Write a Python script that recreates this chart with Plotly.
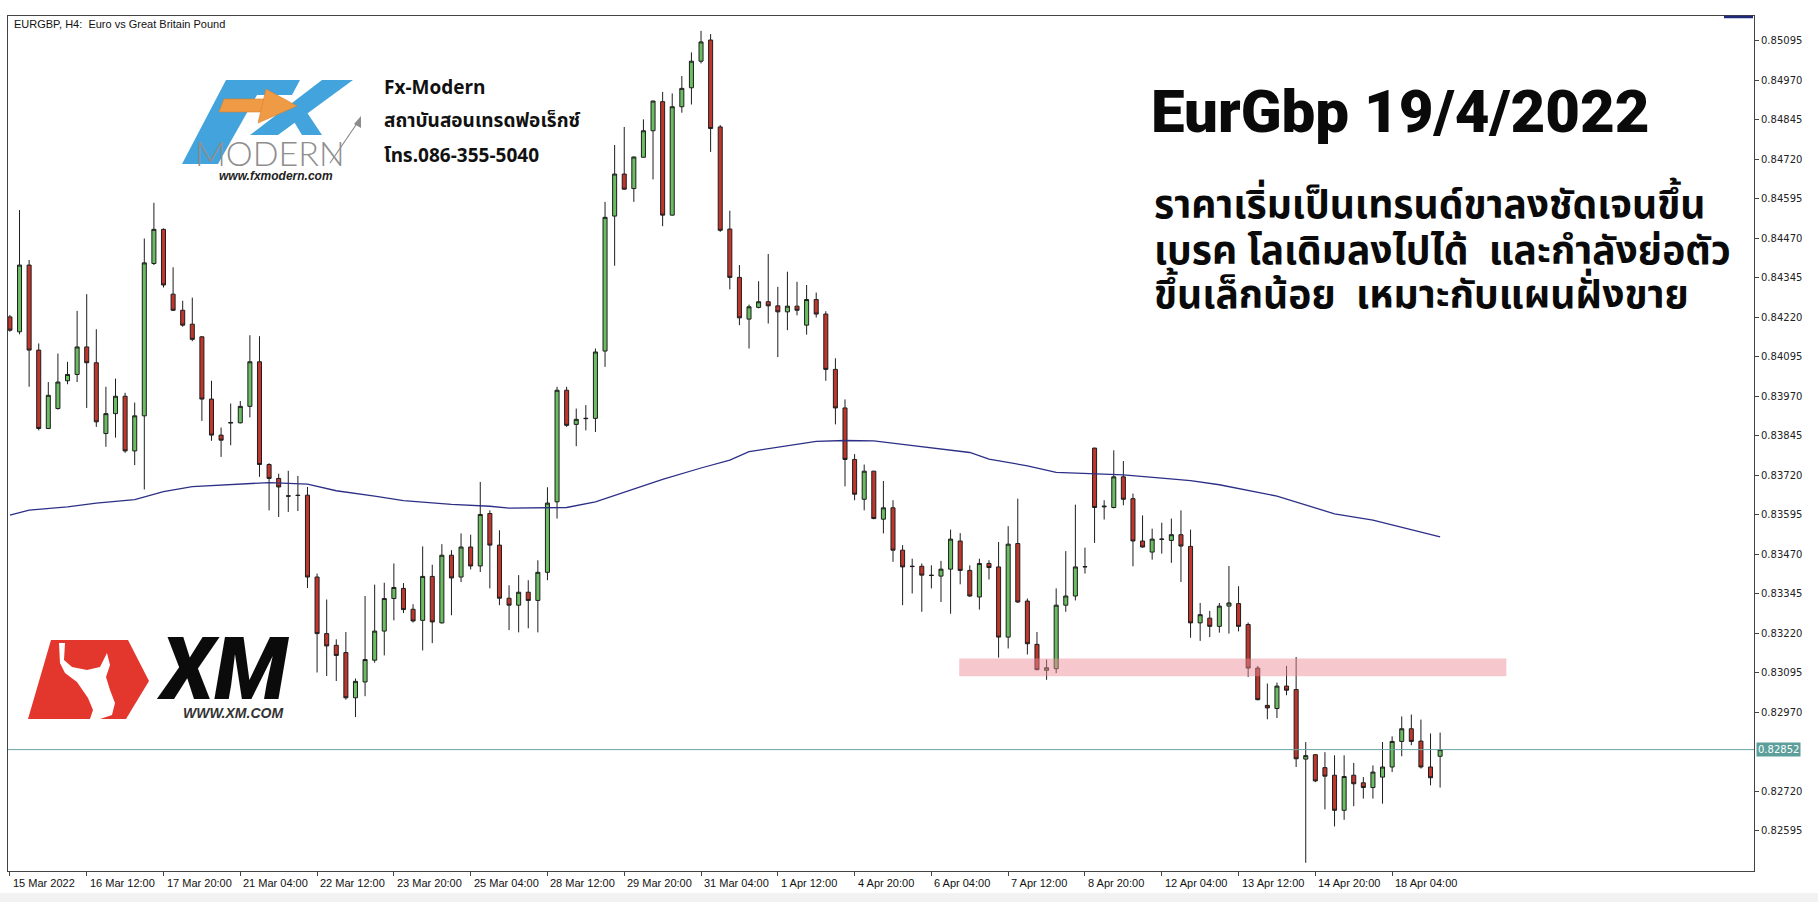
import plotly.graph_objects as go

# ---------------- data (EURGBP H4) ----------------
TICK_LABELS = ["15 Mar 2022", "16 Mar 12:00", "17 Mar 20:00", "21 Mar 04:00", "22 Mar 12:00",
               "23 Mar 20:00", "25 Mar 04:00", "28 Mar 12:00", "29 Mar 20:00", "31 Mar 04:00",
               "1 Apr 12:00", "4 Apr 20:00", "6 Apr 04:00", "7 Apr 12:00", "8 Apr 20:00",
               "12 Apr 04:00", "13 Apr 12:00", "14 Apr 20:00", "18 Apr 04:00"]
BARS_PER_LABEL = 8

OPEN = [0.84221, 0.84174, 0.84385, 0.84116, 0.83868, 0.83931, 0.84019, 0.84039, 0.84126, 0.84076,
        0.83852, 0.83915, 0.83970, 0.83797, 0.83908, 0.84390, 0.84498, 0.84293, 0.84242, 0.84198,
        0.84158, 0.83961, 0.83847, 0.83885, 0.83886, 0.83938, 0.84079, 0.83754, 0.83710, 0.83655,
        0.83657, 0.83657, 0.83398, 0.83219, 0.83182, 0.83159, 0.83016, 0.83066, 0.83135, 0.83227,
        0.83330, 0.83362, 0.83296, 0.83261, 0.83400, 0.83253, 0.83467, 0.83398, 0.83493, 0.83433,
        0.83599, 0.83499, 0.83331, 0.83309, 0.83350, 0.83324, 0.83413, 0.83636, 0.83989, 0.83881,
        0.83899, 0.83900, 0.84113, 0.84540, 0.84673, 0.84627, 0.84726, 0.84810, 0.84902, 0.84543,
        0.84886, 0.84946, 0.85030, 0.85097, 0.84822, 0.84499, 0.84346, 0.84214, 0.84251, 0.84269,
        0.84256, 0.84237, 0.84255, 0.84195, 0.84276, 0.84230, 0.84055, 0.83933, 0.83770, 0.83644,
        0.83733, 0.83581, 0.83617, 0.83483, 0.83431, 0.83432, 0.83404, 0.83401, 0.83423, 0.83512,
        0.83419, 0.83335, 0.83441, 0.83430, 0.83208, 0.83504, 0.83322, 0.83185, 0.83103, 0.83108,
        0.83309, 0.83338, 0.83430, 0.83806, 0.83620, 0.83618, 0.83715, 0.83646, 0.83512, 0.83477,
        0.83517, 0.83514, 0.83532, 0.83495, 0.83253, 0.83268, 0.83242, 0.83306, 0.83314, 0.83248,
        0.83110, 0.82992, 0.82982, 0.83053, 0.83042, 0.82822, 0.82836, 0.82795, 0.82771, 0.82660,
        0.82771, 0.82747, 0.82732, 0.82765, 0.82797, 0.82878, 0.82918, 0.82879, 0.82797, 0.82831]
HIGH = [0.84227, 0.84559, 0.84401, 0.84137, 0.84015, 0.84105, 0.84079, 0.84240, 0.84293, 0.84182,
        0.84000, 0.84026, 0.83981, 0.83950, 0.84469, 0.84582, 0.84501, 0.84378, 0.84272, 0.84282,
        0.84160, 0.84019, 0.83871, 0.83947, 0.83955, 0.84163, 0.84160, 0.83758, 0.83725, 0.83734,
        0.83718, 0.83683, 0.83409, 0.83327, 0.83201, 0.83224, 0.83077, 0.83338, 0.83374, 0.83380,
        0.83441, 0.83379, 0.83312, 0.83495, 0.83437, 0.83502, 0.83483, 0.83536, 0.83532, 0.83699,
        0.83609, 0.83546, 0.83372, 0.83404, 0.83388, 0.83451, 0.83682, 0.84000, 0.84000, 0.83931,
        0.83942, 0.84121, 0.84585, 0.84765, 0.84822, 0.84728, 0.84846, 0.84905, 0.84933, 0.84928,
        0.84983, 0.85058, 0.85126, 0.85116, 0.84828, 0.84557, 0.84385, 0.84260, 0.84334, 0.84420,
        0.84316, 0.84364, 0.84332, 0.84322, 0.84298, 0.84239, 0.84090, 0.83960, 0.83787, 0.83754,
        0.83734, 0.83702, 0.83641, 0.83499, 0.83456, 0.83441, 0.83435, 0.83449, 0.83548, 0.83537,
        0.83435, 0.83456, 0.83451, 0.83509, 0.83559, 0.83646, 0.83330, 0.83224, 0.83137, 0.83362,
        0.83480, 0.83627, 0.83491, 0.83807, 0.83641, 0.83799, 0.83765, 0.83662, 0.83593, 0.83551,
        0.83570, 0.83583, 0.83609, 0.83548, 0.83316, 0.83291, 0.83316, 0.83433, 0.83369, 0.83254,
        0.83117, 0.83061, 0.83064, 0.83117, 0.83145, 0.82876, 0.82837, 0.82844, 0.82834, 0.82834,
        0.82810, 0.82765, 0.82802, 0.82876, 0.82894, 0.82957, 0.82963, 0.82947, 0.82903, 0.82906]
LOW = [0.84174, 0.84166, 0.84000, 0.83862, 0.83866, 0.83928, 0.84008, 0.84015, 0.83933, 0.83873,
       0.83810, 0.83839, 0.83791, 0.83752, 0.83675, 0.84385, 0.84314, 0.84240, 0.84190, 0.84144,
       0.83892, 0.83829, 0.83778, 0.83815, 0.83884, 0.83903, 0.83715, 0.83609, 0.83588, 0.83604,
       0.83607, 0.83363, 0.83096, 0.83085, 0.83069, 0.83010, 0.82955, 0.83021, 0.83127, 0.83150,
       0.83261, 0.83284, 0.83254, 0.83166, 0.83189, 0.83251, 0.83277, 0.83382, 0.83422, 0.83414,
       0.83362, 0.83309, 0.83230, 0.83223, 0.83236, 0.83223, 0.83388, 0.83583, 0.83873, 0.83812,
       0.83862, 0.83857, 0.84063, 0.84383, 0.84624, 0.84585, 0.84725, 0.84656, 0.84508, 0.84542,
       0.84867, 0.84893, 0.85023, 0.84743, 0.84490, 0.84308, 0.84195, 0.84121, 0.84248, 0.84200,
       0.84094, 0.84179, 0.84226, 0.84165, 0.84219, 0.84019, 0.83881, 0.83685, 0.83641, 0.83609,
       0.83581, 0.83536, 0.83446, 0.83309, 0.83346, 0.83288, 0.83362, 0.83319, 0.83282, 0.83375,
       0.83335, 0.83295, 0.83390, 0.83143, 0.83172, 0.83316, 0.83153, 0.83103, 0.83073, 0.83094,
       0.83288, 0.83324, 0.83409, 0.83506, 0.83580, 0.83615, 0.83625, 0.83432, 0.83491, 0.83453,
       0.83472, 0.83443, 0.83382, 0.83206, 0.83196, 0.83208, 0.83222, 0.83219, 0.83226, 0.83082,
       0.83008, 0.82948, 0.82952, 0.83024, 0.82797, 0.82494, 0.82749, 0.82663, 0.82609, 0.82630,
       0.82673, 0.82697, 0.82697, 0.82681, 0.82781, 0.82831, 0.82866, 0.82792, 0.82739, 0.82732]
CLOSE = [0.84179, 0.84385, 0.84116, 0.83868, 0.83973, 0.84015, 0.84039, 0.84126, 0.84076, 0.83889,
         0.83915, 0.83970, 0.83797, 0.83908, 0.84392, 0.84498, 0.84322, 0.84242, 0.84195, 0.84150,
         0.83961, 0.83847, 0.83831, 0.83887, 0.83938, 0.84079, 0.83754, 0.83710, 0.83683, 0.83654,
         0.83656, 0.83398, 0.83219, 0.83180, 0.83150, 0.83016, 0.83068, 0.83137, 0.83227, 0.83330,
         0.83365, 0.83295, 0.83259, 0.83400, 0.83256, 0.83467, 0.83395, 0.83493, 0.83433, 0.83596,
         0.83499, 0.83331, 0.83309, 0.83350, 0.83324, 0.83413, 0.83632, 0.83989, 0.83878, 0.83897,
         0.83900, 0.84110, 0.84536, 0.84673, 0.84625, 0.84727, 0.84810, 0.84904, 0.84543, 0.84886,
         0.84944, 0.85030, 0.85091, 0.84817, 0.84495, 0.84346, 0.84218, 0.84253, 0.84269, 0.84256,
         0.84237, 0.84255, 0.84242, 0.84276, 0.84230, 0.84055, 0.83933, 0.83770, 0.83660, 0.83733,
         0.83583, 0.83617, 0.83483, 0.83430, 0.83432, 0.83404, 0.83403, 0.83423, 0.83518, 0.83419,
         0.83338, 0.83441, 0.83428, 0.83208, 0.83502, 0.83319, 0.83187, 0.83105, 0.83111, 0.83309,
         0.83338, 0.83430, 0.83431, 0.83618, 0.83622, 0.83715, 0.83644, 0.83512, 0.83493, 0.83518,
         0.83518, 0.83532, 0.83496, 0.83253, 0.83279, 0.83242, 0.83306, 0.83316, 0.83242, 0.83110,
         0.83010, 0.82984, 0.83053, 0.83040, 0.82823, 0.82833, 0.82753, 0.82768, 0.82660, 0.82767,
         0.82744, 0.82732, 0.82781, 0.82797, 0.82878, 0.82918, 0.82878, 0.82797, 0.82763, 0.82852]

# moving average, sampled along the bars
MA_BAR = [0, 2, 6, 9, 13, 16, 19, 22, 25, 27, 31, 34, 38, 41, 46, 50, 52, 58, 61, 65, 68, 72, 75,
          77, 81, 84, 87, 90, 93, 97, 100, 102, 106, 109, 113, 116, 120, 123, 126, 132, 138, 142, 149]
MA_VAL = [0.83594, 0.83610, 0.83620, 0.83632, 0.83643, 0.83668, 0.83684, 0.83689, 0.83696, 0.83697,
          0.83692, 0.83671, 0.83654, 0.83640, 0.83628, 0.83622, 0.83616, 0.83618, 0.83636, 0.83676,
          0.83707, 0.83743, 0.83768, 0.83795, 0.83812, 0.83827, 0.83830, 0.83829, 0.83818, 0.83803,
          0.83792, 0.83771, 0.83750, 0.83729, 0.83724, 0.83721, 0.83711, 0.83703, 0.83690, 0.83654,
          0.83598, 0.83578, 0.83525]

Y_TICKS = [0.85095, 0.84970, 0.84845, 0.84720, 0.84595, 0.84470, 0.84345, 0.84220, 0.84095,
           0.83970, 0.83845, 0.83720, 0.83595, 0.83470, 0.83345, 0.83220, 0.83095, 0.82970,
           0.82720, 0.82595]
Y_RANGE = [0.82468, 0.85173]
X_RANGE = [-0.2, 181.7]

# support zone (bars, price)
ZONE_X = [98.9, 155.9]
ZONE_Y = [0.83084, 0.83140]

# ---------------- layout geometry (pixels) ----------------
W, H = 1818, 902
PL, PR, PT, PB = 8, 1754, 16, 871


def px(x):
    return (x - PL) / (PR - PL)


def py(y):
    return (PB - y) / (PB - PT)


def path(points):
    return "M " + " L ".join(f"{px(x):.5f},{py(y):.5f}" for x, y in points) + " Z"


n = len(CLOSE)
bars = list(range(n))

fig = go.Figure()
fig.add_trace(go.Candlestick(
    x=bars, open=OPEN, high=HIGH, low=LOW, close=CLOSE,
    increasing=dict(line=dict(color="#1e1e1e", width=1), fillcolor="#6abd60"),
    decreasing=dict(line=dict(color="#1e1e1e", width=1), fillcolor="#c0362c"),
    whiskerwidth=0, hoverinfo="skip",
))
fig.add_trace(go.Scatter(x=MA_BAR, y=MA_VAL, mode="lines",
                         line=dict(color="#2d2f86", width=1.3), hoverinfo="skip"))

shapes = []
# support zone
shapes.append(dict(type="rect", xref="x", yref="y", x0=ZONE_X[0], x1=ZONE_X[1],
                   y0=ZONE_Y[0], y1=ZONE_Y[1], fillcolor="rgba(236,140,150,0.48)",
                   line=dict(width=0), layer="above"))
# current price line
shapes.append(dict(type="line", xref="paper", yref="y", x0=0, x1=1, y0=CLOSE[-1], y1=CLOSE[-1],
                   line=dict(color="#6aa6a6", width=1), layer="above"))
# chart-shift marker (top right)
shapes.append(dict(type="line", xref="paper", yref="paper", x0=px(1724), x1=px(1753),
                   y0=py(17), y1=py(17), line=dict(color="#1f2a7a", width=2.5)))
# bottom grey strip of the window
shapes.append(dict(type="rect", xref="paper", yref="paper", x0=px(0), x1=px(W),
                   y0=py(893), y1=py(H), fillcolor="#f2f2f2", line=dict(width=0), layer="below"))

# ---- FX Modern logo (decoration) ----
BLUE = "#43a3dc"
shapes.append(dict(type="path", xref="paper", yref="paper", fillcolor=BLUE, line=dict(width=0),
                   path=path([(226, 80), (300, 80), (292, 95), (257, 95), (218, 164), (182, 164)])))
shapes.append(dict(type="path", xref="paper", yref="paper", fillcolor=BLUE, line=dict(width=0),
                   path=path([(322, 80), (353, 80), (278, 135), (250, 135)])))
shapes.append(dict(type="path", xref="paper", yref="paper", fillcolor=BLUE, line=dict(width=0),
                   path=path([(287, 110), (300, 102), (322, 135), (302, 135)])))
shapes.append(dict(type="path", xref="paper", yref="paper", fillcolor="#ef9a45", line=dict(color="#d8822d", width=0.6),
                   path=path([(224, 99), (268, 99), (265, 112), (219, 112)])))
shapes.append(dict(type="path", xref="paper", yref="paper", fillcolor="#ef9a45", line=dict(color="#d8822d", width=0.6),
                   path=path([(266, 89), (297, 106), (258, 123)])))
shapes.append(dict(type="line", xref="paper", yref="paper", x0=px(330), y0=py(163), x1=px(358), y1=py(122),
                   line=dict(color="#8c8c8c", width=1.2)))
shapes.append(dict(type="path", xref="paper", yref="paper", fillcolor="#8c8c8c", line=dict(width=0),
                   path=path([(361, 116), (361, 128), (354, 124)])))

# ---- XM logo (decoration) ----
shapes.append(dict(type="path", xref="paper", yref="paper", fillcolor="#e3372d", line=dict(width=0),
                   path=path([(51, 640), (128, 640), (149, 681), (126, 719), (28, 719)])))
shapes.append(dict(type="path", xref="paper", yref="paper", fillcolor="white", line=dict(width=0),
                   path=path([(59, 643), (65, 643), (64, 660), (72, 667), (87, 670), (100, 667),
                              (107, 653), (110, 665), (106, 677), (110, 690), (115, 703),
                              (112, 715), (100, 719), (90, 719), (93, 710), (88, 698),
                              (77, 682), (65, 673), (60, 663)])))

ann = []
# x labels (left aligned on their tick, like the terminal)
tick_bars = [i * BARS_PER_LABEL for i in range(len(TICK_LABELS))]
for b, lab in zip(tick_bars, TICK_LABELS):
    ann.append(dict(x=b, y=0, xref="x", yref="paper", text=lab, showarrow=False,
                    xanchor="left", yanchor="top", yshift=-4, xshift=1,
                    font=dict(family="Liberation Sans, Arial", size=11, color="#111")))
# current price label
ann.append(dict(x=1, y=CLOSE[-1], xref="paper", yref="y", text=f"{CLOSE[-1]:.5f}", showarrow=False,
                xanchor="left", yanchor="middle", xshift=2, bgcolor="#5b9e9a", borderpad=1,
                font=dict(family="DejaVu Sans", size=10, color="white")))
# header
ann.append(dict(x=px(12), y=py(24), xref="paper", yref="paper",
                text="EURGBP, H4:  Euro vs Great Britain Pound", showarrow=False,
                xanchor="left", yanchor="middle",
                font=dict(family="Liberation Sans, Arial", size=11, color="#111")))
# big title & comments
ann.append(dict(x=px(1149), y=py(111), xref="paper", yref="paper", text="EurGbp 19/4/2022",
                showarrow=False, xanchor="left", yanchor="middle",
                font=dict(family="Roboto, Inter, sans-serif", size=60, color="#0a0a0a", weight=900)))
THAI_LINES = ["ราคาเริ่มเป็นเทรนด์ขาลงชัดเจนขึ้น",
              "เบรค โลเดิมลงไปได้  และกำลังย่อตัว",
              "ขึ้นเล็กน้อย  เหมาะกับแผนฝั่งขาย"]
for k, line in enumerate(THAI_LINES):
    ann.append(dict(x=px(1152), y=py(207 + 45 * k), xref="paper", yref="paper", text=line,
                    showarrow=False, xanchor="left", yanchor="middle",
                    font=dict(family="Noto Sans Thai, Noto Sans, sans-serif", size=39,
                              color="#0a0a0a", weight=700)))
# FX Modern texts
ann.append(dict(x=px(270), y=py(152), xref="paper", yref="paper", text="MODERN", showarrow=False,
                xanchor="center", yanchor="middle",
                font=dict(family="Lato, Roboto, sans-serif", size=34, color="#8e8e8e", weight=300)))
ann.append(dict(x=px(276), y=py(176), xref="paper", yref="paper", text="www.fxmodern.com",
                showarrow=False, xanchor="center", yanchor="middle",
                font=dict(family="Liberation Sans, Arial", size=12, color="#222", weight=700, style="italic")))
for txt, yy in [("Fx-Modern", 88), ("สถาบันสอนเทรดฟอเร็กซ์", 121), ("โทร.086-355-5040", 156)]:
    ann.append(dict(x=px(382), y=py(yy), xref="paper", yref="paper", text=txt, showarrow=False,
                    xanchor="left", yanchor="middle",
                    font=dict(family="Noto Sans Thai, Noto Sans, sans-serif", size=19, color="#111", weight=700)))
# XM texts
ann.append(dict(x=px(222), y=py(669), xref="paper", yref="paper", text="XM", showarrow=False,
                xanchor="center", yanchor="middle",
                font=dict(family="Roboto, Liberation Sans, sans-serif", size=86, color="#0b0b0b",
                          weight=900, style="italic")))
ann.append(dict(x=px(233), y=py(713), xref="paper", yref="paper", text="WWW.XM.COM", showarrow=False,
                xanchor="center", yanchor="middle",
                font=dict(family="Liberation Sans, Arial", size=14, color="#333", weight=700, style="italic")))

fig.update_layout(
    width=W, height=H, margin=dict(l=PL, r=W - PR, t=PT, b=H - PB, pad=0),
    paper_bgcolor="white", plot_bgcolor="white", showlegend=False,
    boxgap=0.4, shapes=shapes, annotations=ann, hovermode=False,
    xaxis=dict(range=X_RANGE, showgrid=False, zeroline=False, showline=True, mirror=True,
               linecolor="#444", linewidth=1, rangeslider=dict(visible=False),
               tickmode="array", tickvals=tick_bars, showticklabels=False,
               ticks="outside", ticklen=4, tickcolor="#444"),
    yaxis=dict(range=Y_RANGE, side="right", showgrid=False, zeroline=False, showline=True,
               mirror=True, linecolor="#444", linewidth=1, tickmode="array", tickvals=Y_TICKS,
               ticktext=[f"{v:.5f}" for v in Y_TICKS], ticks="outside", ticklen=4,
               tickcolor="#444", tickfont=dict(family="DejaVu Sans", size=10, color="#222")),
)

fig.write_html("out.html", config={"displayModeBar": False},
               post_script="document.body.style.margin='0';document.body.style.padding='0';")
